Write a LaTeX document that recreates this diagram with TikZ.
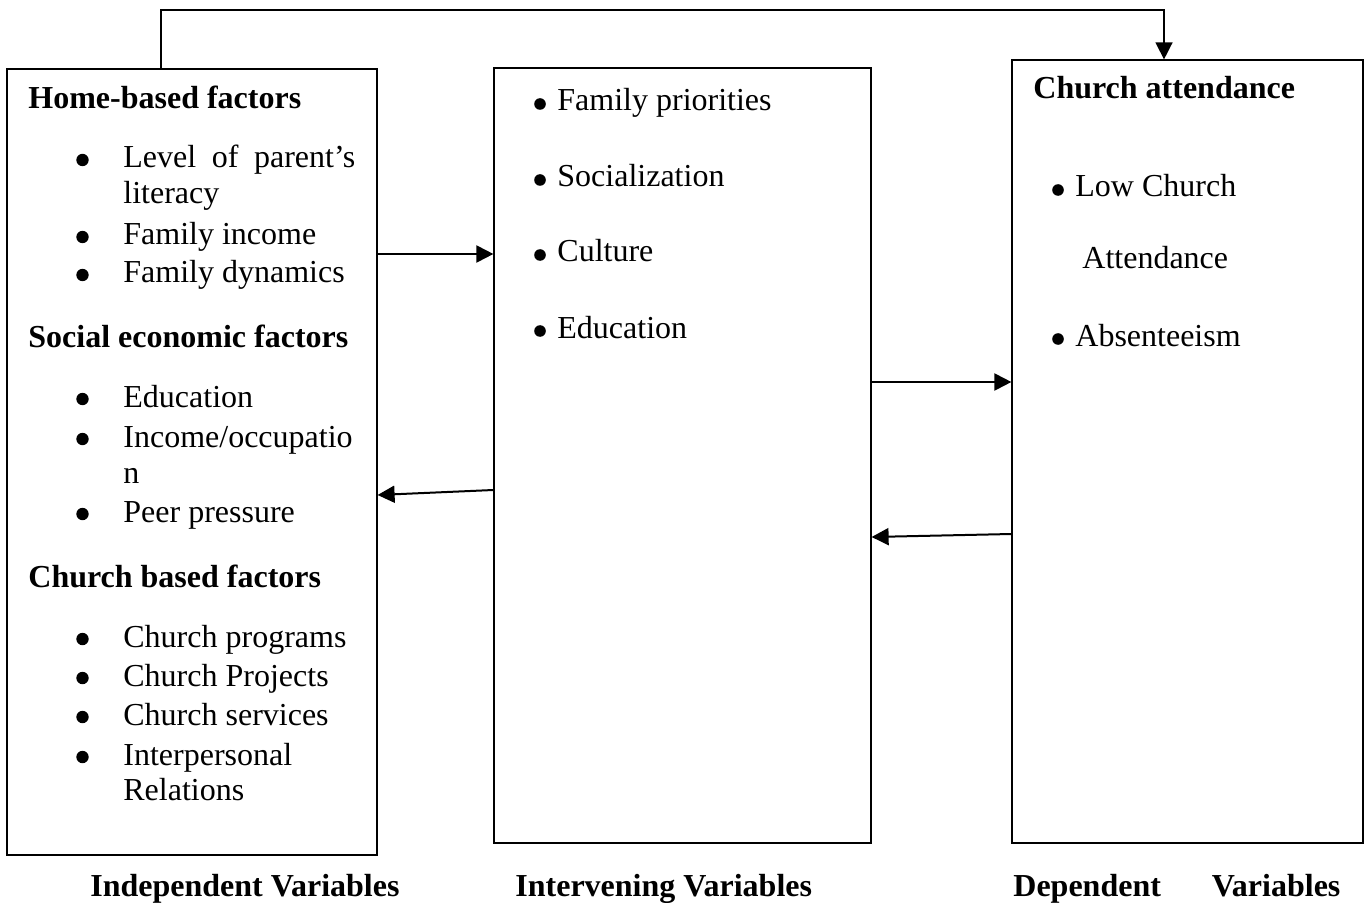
\documentclass[tikz,border=0pt]{standalone}
\usepackage{fontspec}
\setmainfont{Liberation Serif}
\usetikzlibrary{arrows.meta}

\begin{document}
\begin{tikzpicture}[x=0.5pt, y=-0.5pt, >={Triangle[length=8.5pt,width=8.5pt]},
  box/.style={draw, line width=0.6pt, inner sep=0pt},
  txt/.style={anchor=base west, inner sep=0pt, font=\fontsize{16}{19}\selectfont},
  head/.style={txt, font=\fontsize{16}{19}\selectfont\bfseries},
  bul/.style={circle, fill, inner sep=0pt, minimum size=6.2pt},
  link/.style={->, line width=1pt}]
  \useasboundingbox (0,0) rectangle (1368,903);
  % the three boxes
  \node[box, minimum width=185pt, minimum height=393pt] (indep) at (192,462) {};
  \node[box, minimum width=188.5pt, minimum height=387.5pt] (interv) at (682.5,455.5) {};
  \node[box, minimum width=175.5pt, minimum height=391.5pt] (dep) at (1187.5,451.5) {};
  % independent variables
  \node[head] (home) at (28,109) {Home-based factors};
  \node[head] (social) at (28,347) {Social economic factors};
  \node[head] (church) at (28,587) {Church based factors};
  \foreach \y [count=\i] in {168,245,283,407,447,522,647,686,725,765}
    \node[bul] (dot\i) at (82.5,\y-8) {};
  \node[txt] (level) at (123,168) {\makebox[116pt][s]{Level of parent's}};
  \node[txt] (literacy) at (123,204) {literacy};
  \node[txt] (income) at (123,245) {Family income};
  \node[txt] (dynamics) at (123,283) {Family dynamics};
  \node[txt] (educ) at (123,407) {Education};
  \node[txt] (occup) at (123,447) {Income/occupatio};
  \node[txt] (occupn) at (123,483) {n};
  \node[txt] (peer) at (123,522) {Peer pressure};
  \node[txt] (programs) at (123,647) {Church programs};
  \node[txt] (projects) at (123,686) {Church Projects};
  \node[txt] (services) at (123,725) {Church services};
  \node[txt] (interp) at (123,765) {Interpersonal};
  \node[txt] (relations) at (123,800) {Relations};
  % intervening variables
  \foreach \y [count=\i] in {111,187,262,338}
    \node[bul, minimum size=5.8pt] (mdot\i) at (540,\y-7) {};
  \node[txt] (priorities) at (557,111) {Family priorities};
  \node[txt] (socializ) at (557,187) {Socialization};
  \node[txt] (culture) at (557,262) {Culture};
  \node[txt] (education) at (557,338) {Education};
  % dependent variables
  \node[head] (attend) at (1033,99) {Church attendance};
  \node[bul, minimum size=5.8pt] (rdot1) at (1058,190) {};
  \node[bul, minimum size=5.8pt] (rdot2) at (1058,339) {};
  \node[txt] (low) at (1075,197) {Low Church};
  \node[txt] (lowb) at (1082,269) {Attendance};
  \node[txt] (absent) at (1075,346) {Absenteeism};
  % captions
  \node[head] (capindep) at (90,896) {Independent Variables};
  \node[head] (capinterv) at (515,896) {Intervening Variables};
  \node[head] (capdep) at (1013,896) {\makebox[163.5pt][s]{Dependent Variables}};
  % connectors
  \coordinate (top) at (1164,10);
  \draw[link, line width=0.7pt] (indep.north -| 161,0) |- (top) -- (dep.north -| top);
  \draw[link] (indep.east |- 0,254) -- (interv.west |- 0,254);
  \draw[link] (interv.east |- 0,382) -- (dep.west |- 0,382);
  \draw[link] (interv.west |- 0,490) -- (indep.east |- 0,495);
  \draw[link] (dep.west |- 0,534) -- (interv.east |- 0,537);
\end{tikzpicture}
\end{document}
